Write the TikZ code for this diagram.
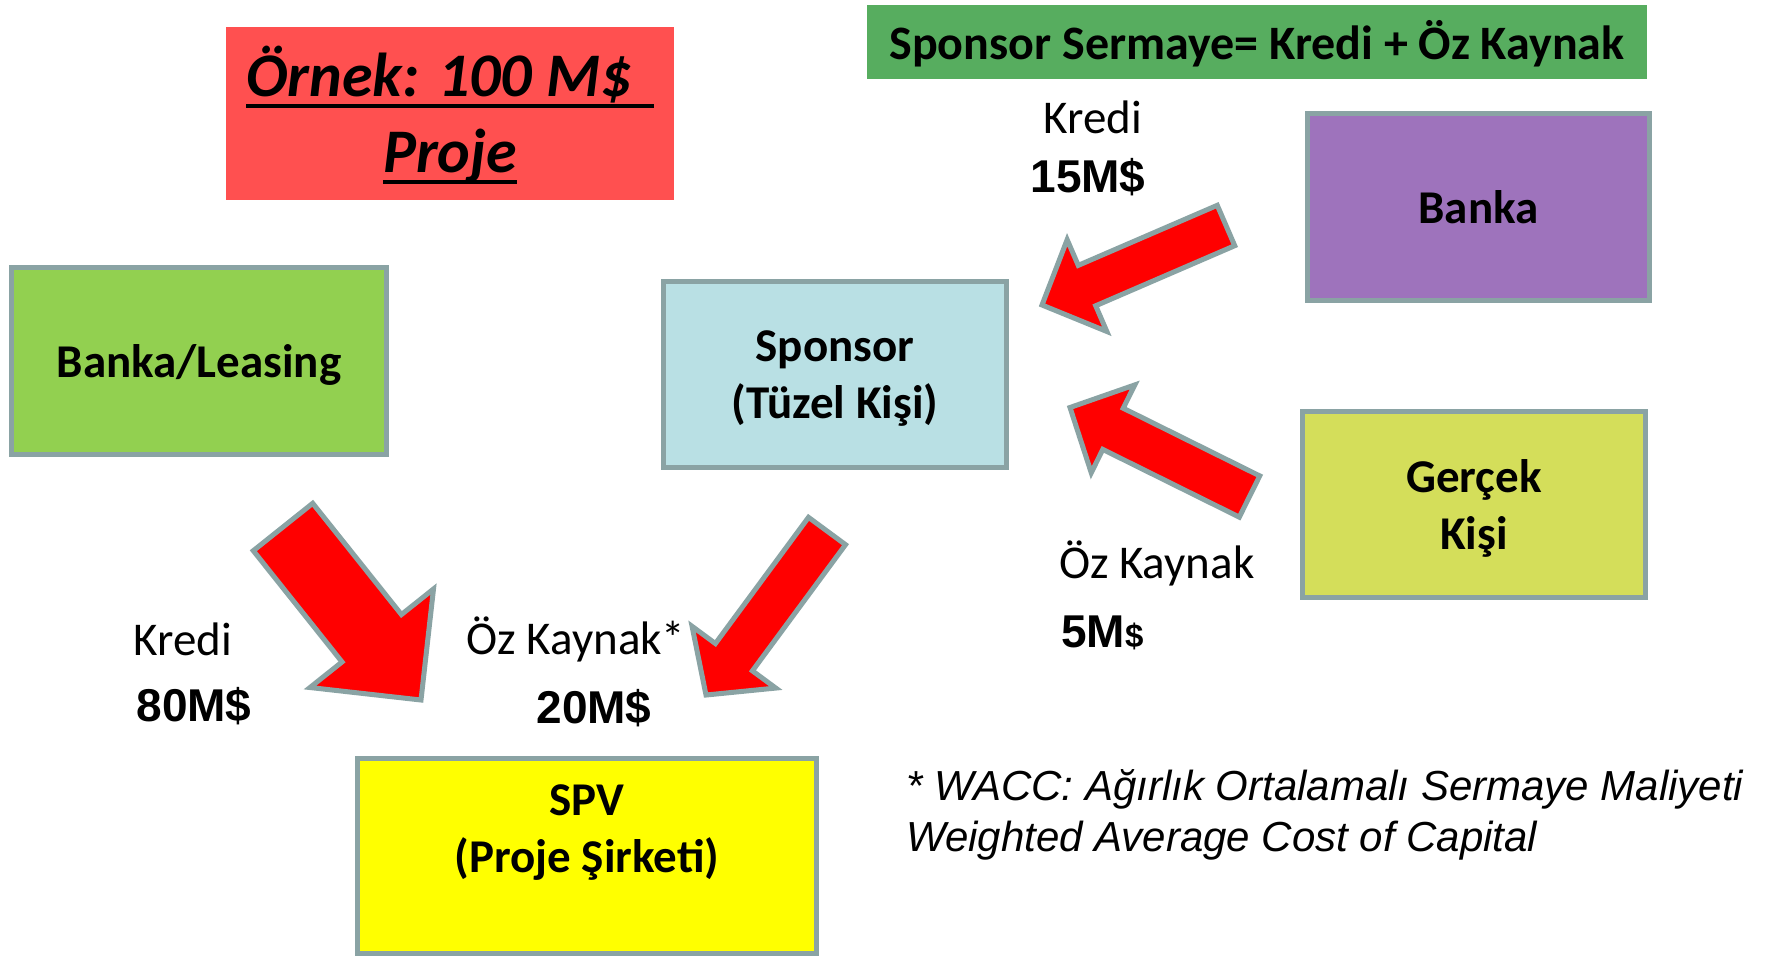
\documentclass[tikz,border=0pt]{standalone}
\usepackage{fontspec}
\setmainfont{Carlito}
\newfontfamily\arialfont{Liberation Sans}
\usetikzlibrary{calc}

\definecolor{boxline}{RGB}{138,163,164}
\definecolor{titlered}{RGB}{255,80,80}
\definecolor{headgreen}{RGB}{87,173,95}
\definecolor{leasegreen}{RGB}{146,208,80}
\definecolor{sponsorblue}{RGB}{185,224,228}
\definecolor{bankpurple}{RGB}{158,115,188}
\definecolor{personlime}{RGB}{212,222,90}
\definecolor{spvyellow}{RGB}{255,255,0}
\definecolor{arrowred}{RGB}{255,0,0}

\tikzset{
  entity/.style={rectangle, draw=boxline, line width=5pt, inner sep=0pt, align=center,
    text depth=0pt, font=\fontsize{47}{57}\selectfont\bfseries},
  titletext/.style={anchor=base, inner sep=0pt, font=\fontsize{62}{76}\selectfont\bfseries\itshape},
  headtext/.style={anchor=base, inner sep=0pt, font=\fontsize{48}{58}\selectfont\bfseries},
  flowlabel/.style={anchor=base, inner sep=0pt, font=\fontsize{47}{56}\selectfont},
  amount/.style={anchor=base, inner sep=0pt, font=\arialfont\bfseries\fontsize{46}{55}\selectfont},
  note/.style={anchor=base west, inner sep=0pt, align=left, font=\arialfont\itshape\fontsize{42}{51}\selectfont},
  flowarrow/.style={fill=arrowred, draw=boxline, line width=5pt, line join=miter},
}

% block arrow: tail centre, tip, shaft half width, head half width, head length
\newcommand\blockarrow[5]{%
  \coordinate (ba-base) at ($(#2)!#5!(#1)$);
  \draw[flowarrow] ($(#1)!#3!90:(#2)$) -- ($(ba-base)!#3!90:(#2)$) -- ($(ba-base)!#4!90:(#2)$)
    -- (#2) -- ($(ba-base)!#4!-90:(#2)$) -- ($(ba-base)!#3!-90:(#2)$) -- ($(#1)!#3!-90:(#2)$) -- cycle;
}

\begin{document}
\begin{tikzpicture}[x=1pt,y=-1pt]
\fill[white] (0,0) rectangle (1771,956);
\useasboundingbox (0,0) rectangle (1771,956);

% title
\node[fill=titlered, minimum width=448pt, minimum height=173pt, inner sep=0pt] (titlebox) at (450,113.5) {};
\node[titletext] (t1) at (450,96) {Örnek: 100 M\$\kern0.35em};
\node[titletext] (t2) at (450,172) {Proje};
\draw[line width=4pt] ([yshift=-10pt]t1.base west) -- ([yshift=-10pt]t1.base east);
\draw[line width=4pt] ([yshift=-10pt]t2.base west) -- ([yshift=-10pt]t2.base east);

% header
\node[fill=headgreen, minimum width=780pt, minimum height=74pt, inner sep=0pt] (headbox) at (1257,42) {};
\node[headtext] (headline) at (1257,59) {Sponsor Sermaye= Kredi + Öz Kaynak};

% parties
\node[entity, fill=leasegreen, minimum width=375pt, minimum height=187pt] (leasing) at (199,361) {Banka/Leasing};
\node[entity, fill=sponsorblue, minimum width=343pt, minimum height=186pt] (sponsor) at (835,374.5) {Sponsor\\(Tüzel Kişi)};
\node[entity, fill=bankpurple, minimum width=342pt, minimum height=187pt] (bank) at (1478.5,207) {Banka};
\node[entity, fill=personlime, minimum width=343pt, minimum height=186pt] (person) at (1474,504.5) {Gerçek\\Kişi};
\node[entity, fill=spvyellow, minimum width=459pt, minimum height=195pt] (spv) at (587,856) {};
\node[entity, draw=none, anchor=north] (spvname) at ([yshift=-26pt]spv.north) {SPV\\(Proje Şirketi)};

% flows
\coordinate (a1t) at (283,527);   \coordinate (a1h) at (421,700);
\coordinate (a2t) at (827,531);   \coordinate (a2h) at (706,695);
\coordinate (a3t) at (1226,225.5); \coordinate (a3h) at (1042,305);
\coordinate (a4t) at (1249.5,496.5); \coordinate (a4h) at (1070,407.5);
\blockarrow{a1t}{a1h}{38pt}{79pt}{79pt}
\blockarrow{a2t}{a2h}{23pt}{52pt}{47pt}
\blockarrow{a3t}{a3h}{22pt}{50pt}{49pt}
\blockarrow{a4t}{a4h}{23pt}{49pt}{48pt}

% flow labels
\node[flowlabel] (k15) at (1093,133) {Kredi};
\node[amount] (v15) at (1088,192) {15M\$};
\node[flowlabel] (k80) at (183,655) {Kredi};
\node[amount] (v80) at (194,721) {80M\$};
\node[flowlabel] (e20) at (576,654) {Öz Kaynak*};
\node[amount] (v20) at (594,723) {20M\$};
\node[flowlabel, anchor=base west] (e5) at (1059,578) {Öz Kaynak};
\node[amount, anchor=base west] (v5) at (1061,647) {5M{\fontsize{33}{40}\selectfont\$}};

% footnote
\node[note] (wacc) at (906,851) {* WACC: Ağırlık Ortalamalı Sermaye Maliyeti\\Weighted Average Cost of Capital};
\end{tikzpicture}
\end{document}
